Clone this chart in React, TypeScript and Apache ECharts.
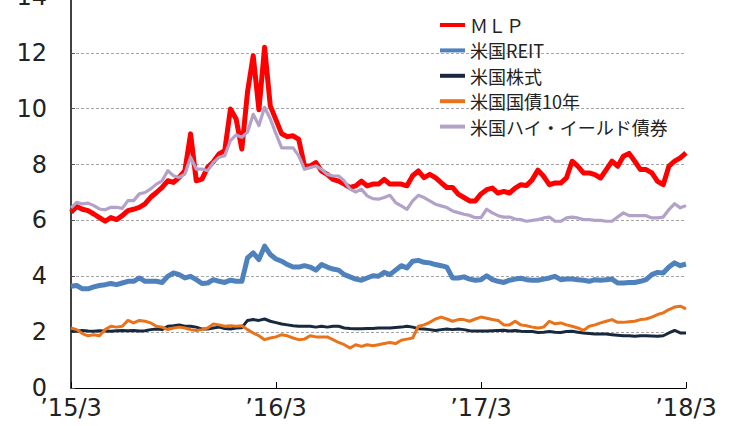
import React, { useEffect, useRef } from "react";
import * as echarts from "echarts";

// Category axis: one point every ~10 days from 2015/3 to 2018/3
const dates: string[] = [];
for (let m = 0; m <= 36; m++) {
  const y = 2015 + Math.floor((m + 2) / 12);
  const mo = ((m + 2) % 12) + 1;
  for (const d of [1, 11, 21]) {
    if (dates.length <= 108) dates.push(`${y}/${mo}/${d}`);
  }
}
dates.length = 109;

const seriesNames = ["ＭＬＰ", "米国REIT", "米国株式", "米国国債10年", "米国ハイ・イールド債券"];

const mlp = [
  6.29, 6.5, 6.4, 6.35, 6.23, 6.1, 5.97, 6.1, 6.03, 6.17,
  6.35, 6.4, 6.47, 6.59, 6.83, 7.0, 7.18, 7.42, 7.36, 7.54,
  7.78, 9.1, 7.42, 7.48, 7.9, 8.1, 8.38, 8.5, 9.99, 9.63,
  8.56, 10.6, 11.9, 9.96, 12.2, 10.1, 9.6, 9.1, 9.0, 9.03,
  8.9, 7.95, 7.95, 8.07, 7.77, 7.65, 7.47, 7.41, 7.3, 7.18,
  7.24, 7.41, 7.24, 7.3, 7.3, 7.47, 7.3, 7.3, 7.3, 7.24,
  7.6, 7.77, 7.53, 7.65, 7.53, 7.35, 7.18, 7.18, 6.94, 6.82,
  6.7, 6.7, 6.95, 7.1, 7.16, 6.98, 7.04, 6.98, 7.16, 7.28,
  7.25, 7.46, 7.8, 7.58, 7.28, 7.34, 7.34, 7.52, 8.12, 7.94,
  7.7, 7.7, 7.64, 7.52, 7.82, 8.12, 7.94, 8.3, 8.4, 8.12,
  7.82, 7.82, 7.7, 7.4, 7.28, 7.94, 8.12, 8.24, 8.42,
];

const reit = [
  3.64, 3.67, 3.55, 3.55, 3.62, 3.67, 3.7, 3.74, 3.7, 3.76,
  3.82, 3.82, 3.94, 3.82, 3.82, 3.82, 3.78, 4.0, 4.12, 4.06,
  3.94, 4.0, 3.88, 3.74, 3.76, 3.88, 3.82, 3.78, 3.86, 3.82,
  3.82, 4.66, 4.84, 4.6, 5.08, 4.78, 4.62, 4.54, 4.42, 4.33,
  4.33, 4.38, 4.33, 4.22, 4.42, 4.33, 4.26, 4.22, 4.06, 3.98,
  3.9, 3.86, 3.94, 4.02, 4.0, 4.14, 4.06, 4.22, 4.38, 4.3,
  4.54, 4.57, 4.5, 4.48, 4.42, 4.38, 4.33, 3.94, 3.94, 3.98,
  3.9, 3.86, 3.88, 4.02, 3.88, 3.82, 3.78, 3.86, 3.9, 3.93,
  3.88, 3.86, 3.86, 3.9, 3.94, 4.0, 3.88, 3.9, 3.9, 3.88,
  3.86, 3.82, 3.88, 3.86, 3.88, 3.9, 3.76, 3.76, 3.78, 3.78,
  3.82, 3.88, 4.06, 4.14, 4.12, 4.33, 4.48, 4.38, 4.44,
];

const stocks = [
  2.03, 2.03, 2.06, 2.04, 2.03, 2.05, 2.04, 2.03, 2.05, 2.06,
  2.05, 2.06, 2.04, 2.05, 2.09, 2.11, 2.09, 2.21, 2.23, 2.26,
  2.21, 2.21, 2.18, 2.11, 2.11, 2.15, 2.18, 2.13, 2.11, 2.15,
  2.16, 2.42, 2.45, 2.42, 2.47, 2.39, 2.34, 2.29, 2.26, 2.23,
  2.21, 2.21, 2.21, 2.18, 2.21, 2.18, 2.21, 2.21, 2.15, 2.13,
  2.12, 2.12, 2.13, 2.13, 2.15, 2.15, 2.15, 2.17, 2.18, 2.21,
  2.18, 2.12, 2.11, 2.09, 2.06, 2.09, 2.11, 2.09, 2.11, 2.09,
  2.05, 2.04, 2.04, 2.04, 2.05, 2.06, 2.07, 2.04, 2.06, 2.03,
  2.02, 2.02, 1.99, 2.0, 2.02, 2.0, 1.99, 2.02, 2.03, 2.0,
  1.97, 1.95, 1.93, 1.93, 1.93, 1.91, 1.89, 1.87, 1.87, 1.85,
  1.87, 1.87, 1.86, 1.85, 1.87, 1.97, 2.06, 1.97, 1.97,
];

const treasury10y = [
  2.15, 2.09, 1.95, 1.87, 1.91, 1.87, 2.09, 2.21, 2.18, 2.21,
  2.42, 2.33, 2.42, 2.39, 2.33, 2.21, 2.18, 2.09, 2.15, 2.18,
  2.15, 2.09, 2.06, 2.09, 2.15, 2.29, 2.26, 2.21, 2.23, 2.21,
  2.23, 2.09, 1.97, 1.87, 1.73, 1.79, 1.83, 1.91, 1.87, 1.79,
  1.73, 1.75, 1.87, 1.83, 1.83, 1.83, 1.73, 1.63, 1.55, 1.43,
  1.55, 1.49, 1.55, 1.51, 1.55, 1.59, 1.63, 1.59, 1.71, 1.75,
  1.79, 2.21, 2.26, 2.35, 2.47, 2.54, 2.47, 2.39, 2.45, 2.45,
  2.39, 2.47, 2.54, 2.5, 2.45, 2.42, 2.26, 2.26, 2.39, 2.26,
  2.23, 2.18, 2.15, 2.18, 2.39, 2.3, 2.33, 2.26, 2.21, 2.15,
  2.06, 2.21, 2.26, 2.33, 2.39, 2.45, 2.35, 2.35, 2.37, 2.39,
  2.45, 2.47, 2.54, 2.63, 2.69, 2.81, 2.9, 2.93, 2.83,
];

const highYield = [
  6.45, 6.65, 6.59, 6.62, 6.53, 6.41, 6.38, 6.47, 6.47, 6.43,
  6.71, 6.71, 6.95, 7.0, 7.13, 7.3, 7.42, 7.78, 7.6, 7.54,
  7.66, 8.26, 7.84, 7.84, 7.78, 8.08, 8.26, 8.32, 8.86, 9.06,
  8.98, 9.16, 9.8, 9.4, 10.05, 9.63, 9.1, 8.6, 8.6, 8.6,
  8.31, 7.83, 7.89, 7.95, 7.83, 7.65, 7.59, 7.59, 7.41, 7.12,
  7.02, 7.12, 6.88, 6.78, 6.76, 6.82, 6.9, 6.64, 6.52, 6.4,
  6.7, 6.9, 6.82, 6.7, 6.58, 6.52, 6.46, 6.34, 6.28, 6.22,
  6.18, 6.1, 6.1, 6.4, 6.27, 6.17, 6.12, 6.12, 6.05, 6.03,
  5.97, 6.0, 6.03, 6.09, 6.12, 5.97, 5.97, 6.09, 6.12, 6.09,
  6.03, 6.03, 6.0, 6.0, 5.97, 5.97, 6.12, 6.27, 6.17, 6.17,
  6.17, 6.17, 6.09, 6.09, 6.12, 6.39, 6.6, 6.45, 6.53,
];

const colors = ["#FF0000", "#4F81BD", "#17283F", "#E8731A", "#B3A2C7"];
const widths = [5, 5, 3, 3, 3.2];
const allData = [mlp, reit, stocks, treasury10y, highYield];

const labelEvery = 36;

export default function App() {
  const ref = useRef<HTMLDivElement>(null);
  useEffect(() => {
    if (!ref.current) return;
    const chart = echarts.init(ref.current, null, { renderer: "svg" });
    const showIdx = (i: number) => i % labelEvery === 0;
    chart.setOption({
      animation: false,
      backgroundColor: "#ffffff",
      grid: { left: 71, right: 47, top: 0, bottom: 38, containLabel: false, outerBoundsMode: "none" },
      legend: {
        orient: "vertical",
        left: 440,
        top: 18,
        padding: 0,
        itemWidth: 25,
        itemHeight: 4,
        itemGap: 5.4,
        icon: "rect",
        selectedMode: false,
        textStyle: {
          fontSize: 18,
          color: "#222",
          fontFamily: '"Noto Sans CJK JP", sans-serif',
          lineHeight: 20,
        },
        data: seriesNames,
      },
      xAxis: {
        type: "category",
        data: dates,
        boundaryGap: false,
        axisLine: { lineStyle: { color: "#000", width: 1 } },
        axisTick: {
          inside: true,
          length: 6,
          interval: (i: number) => showIdx(i),
          lineStyle: { color: "#000" },
        },
        axisLabel: {
          interval: (i: number) => showIdx(i),
          formatter: (v: string) => {
            const parts = v.split("/");
            return "’" + parts[0].slice(2) + "/" + parts[1];
          },
          fontSize: 24,
          color: "#222",
          margin: 8,
          fontFamily: '"DejaVu Sans", sans-serif',
        },
        splitLine: { show: false },
      },
      yAxis: {
        type: "value",
        min: 0,
        max: 14,
        interval: 2,
        axisLine: { show: true, lineStyle: { color: "#000", width: 1.5 } },
        axisTick: { show: true, inside: true, length: 4, lineStyle: { color: "#555" } },
        axisLabel: {
          fontSize: 24,
          color: "#222",
          margin: 24,
          fontFamily: '"DejaVu Sans", sans-serif',
        },
        splitLine: { lineStyle: { color: "#a6a6a6", type: [3, 2], width: 1 } },
      },
      series: seriesNames.map((name, k) => ({
        name,
        type: "line",
        data: allData[k],
        symbol: "none",
        showSymbol: false,
        color: colors[k],
        lineStyle: { color: colors[k], width: widths[k], join: "round" },
        emphasis: { disabled: true },
        z: 2 + k,
      })),
    });
    return () => chart.dispose();
  }, []);
  return (
    <div
      ref={ref}
      style={{ position: "fixed", left: 0, top: -3, width: 733, height: 429, background: "#fff" }}
    />
  );
}
